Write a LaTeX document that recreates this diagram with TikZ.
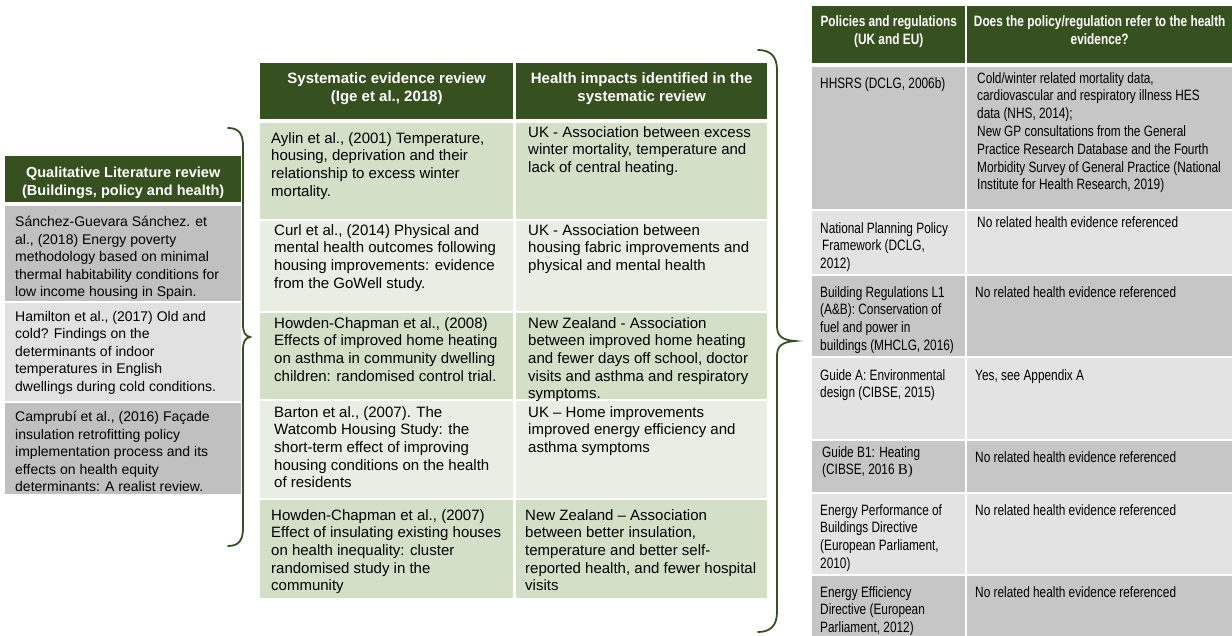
\documentclass[tikz,border=0pt]{standalone}
\usepackage{fontspec}
\setmainfont{Liberation Sans}
\newfontfamily\narrowfont[FakeStretch=0.79]{Liberation Sans}
\newfontfamily\serifpart{Liberation Serif}
\usepackage{tikz}
\usetikzlibrary{positioning}
\usepackage{xcolor}
\definecolor{hdgreen}{RGB}{55,80,31}
\definecolor{rowgreen}{RGB}{211,223,199}
\definecolor{rowpale}{RGB}{232,238,228}
\definecolor{rowgrey}{RGB}{192,192,192}
\definecolor{rowlight}{RGB}{225,225,225}
\definecolor{polgrey}{RGB}{198,198,198}
\definecolor{pollight}{RGB}{227,227,227}
\tikzstyle{cell} = [rectangle, inner sep=0pt, anchor=north west]
\tikzstyle{hdcell} = [cell, fill=hdgreen]
\tikzstyle{greencell} = [cell, fill=rowgreen]
\tikzstyle{palecell} = [cell, fill=rowpale]
\tikzstyle{greycell} = [cell, fill=rowgrey]
\tikzstyle{lightcell} = [cell, fill=rowlight]
\tikzstyle{polcell} = [cell, fill=polgrey]
\tikzstyle{pollightcell} = [cell, fill=pollight]
\tikzstyle{hdtext} = [inner sep=0pt, align=center, text=white, font=\bfseries\fontsize{15}{18}\selectfont]
\tikzstyle{littext} = [inner sep=0pt, align=left, font=\fontsize{14}{17.5}\selectfont]
\tikzstyle{bodytext} = [inner sep=0pt, align=left, font=\fontsize{15}{17.7}\selectfont]
\tikzstyle{poltext} = [inner sep=0pt, align=left, font=\narrowfont\fontsize{15}{17.8}\selectfont]
\tikzstyle{polhdtext} = [hdtext, font=\narrowfont\bfseries\fontsize{15}{18}\selectfont]
\tikzstyle{brace} = [draw=hdgreen, line width=1.8pt, line cap=round]

\begin{document}
\begin{tikzpicture}[x=1pt, y=-1pt]
\useasboundingbox (0,0) rectangle (1232,636);
\fill[white] (0,0) rectangle (1232,636);

% Qualitative literature review
\node[hdcell, minimum width=236pt, minimum height=46pt] (lhd) at (5,156) {};
\node[hdtext, font=\bfseries\fontsize{14.5}{18}\selectfont, below=11pt of lhd.north] (lhdtxt) {Qualitative Literature review\\(Buildings, policy and health)};
\node[greycell, minimum width=236pt, minimum height=95pt] (l1) at (5,206) {};
\node[littext, below right=10pt and 10pt of l1.north west] (l1txt) {Sánchez-Guevara Sánchez. et\\al., (2018) Energy poverty\\methodology based on minimal\\thermal habitability conditions for\\low income housing in Spain.};
\node[lightcell, minimum width=236pt, minimum height=98pt] (l2) at (5,303) {};
\node[littext, below right=8pt and 10pt of l2.north west] (l2txt) {Hamilton et al., (2017) Old and\\cold? Findings on the\\determinants of indoor\\temperatures in English\\dwellings during cold conditions.};
\node[greycell, minimum width=236pt, minimum height=91pt] (l3) at (5,403) {};
\node[littext, below right=8pt and 10pt of l3.north west] (l3txt) {Camprubí et al., (2016) Façade\\insulation retrofitting policy\\implementation process and its\\effects on health equity\\determinants: A realist review.};

% Systematic evidence review
\node[hdcell, minimum width=253pt, minimum height=56pt] (mhd1) at (260,63) {};
\node[hdcell, minimum width=251pt, minimum height=56pt] (mhd2) at (516,63) {};
\node[hdtext, below=9pt of mhd1.north] (mhd1txt) {Systematic evidence review\\(Ige et al., 2018)};
\node[hdtext, below=9pt of mhd2.north] (mhd2txt) {Health impacts identified in the\\systematic review};

\node[greencell, minimum width=253pt, minimum height=96pt] (m11) at (260,123) {};
\node[greencell, minimum width=251pt, minimum height=96pt] (m12) at (516,123) {};
\node[bodytext, below right=9pt and 11pt of m11.north west] (m11txt) {Aylin et al., (2001) Temperature,\\housing, deprivation and their\\relationship to excess winter\\mortality.};
\node[bodytext, below right=3pt and 12pt of m12.north west] (m12txt) {UK - Association between excess\\winter mortality, temperature and\\lack of central heating.};

\node[palecell, minimum width=253pt, minimum height=90pt] (m21) at (260,221) {};
\node[palecell, minimum width=251pt, minimum height=90pt] (m22) at (516,221) {};
\node[bodytext, below right=3pt and 14pt of m21.north west] (m21txt) {Curl et al., (2014) Physical and\\mental health outcomes following\\housing improvements: evidence\\from the GoWell study.};
\node[bodytext, below right=3pt and 12pt of m22.north west] (m22txt) {UK - Association between\\housing fabric improvements and\\physical and mental health};

\node[greencell, minimum width=253pt, minimum height=86pt] (m31) at (260,313) {};
\node[greencell, minimum width=251pt, minimum height=86pt] (m32) at (516,313) {};
\node[bodytext, below right=4pt and 14pt of m31.north west] (m31txt) {Howden-Chapman et al., (2008)\\Effects of improved home heating\\on asthma in community dwelling\\children: randomised control trial.};
\node[bodytext, below right=4pt and 12pt of m32.north west] (m32txt) {New Zealand - Association\\between improved home heating\\and fewer days off school, doctor\\visits and asthma and respiratory\\symptoms.};

\node[palecell, minimum width=253pt, minimum height=97pt] (m41) at (260,401) {};
\node[palecell, minimum width=251pt, minimum height=97pt] (m42) at (516,401) {};
\node[bodytext, below right=5pt and 14pt of m41.north west] (m41txt) {Barton et al., (2007). The\\Watcomb Housing Study: the\\short-term effect of improving\\housing conditions on the health\\of residents};
\node[bodytext, below right=5pt and 12pt of m42.north west] (m42txt) {UK – Home improvements\\improved energy efficiency and\\asthma symptoms};

\node[greencell, minimum width=253pt, minimum height=98pt] (m51) at (260,500) {};
\node[greencell, minimum width=251pt, minimum height=98pt] (m52) at (516,500) {};
\node[bodytext, below right=9pt and 11pt of m51.north west] (m51txt) {Howden-Chapman et al., (2007)\\Effect of insulating existing houses\\on health inequality: cluster\\randomised study in the\\community};
\node[bodytext, below right=9pt and 9pt of m52.north west] (m52txt) {New Zealand – Association\\between better insulation,\\temperature and better self-\\reported health, and fewer hospital\\visits};

% Policies and regulations
\node[hdcell, minimum width=153pt, minimum height=57pt] (rhd1) at (812,6) {};
\node[hdcell, minimum width=265pt, minimum height=57pt] (rhd2) at (967,6) {};
\node[polhdtext, below=9pt of rhd1.north] (rhd1txt) {Policies and regulations\\(UK and EU)};
\node[polhdtext, below=9pt of rhd2.north] (rhd2txt) {Does the policy/regulation refer to the health\\evidence?};

\node[polcell, minimum width=153pt, minimum height=142pt] (r11) at (812,67) {};
\node[polcell, minimum width=265pt, minimum height=142pt] (r12) at (967,67) {};
\node[poltext, below right=10pt and 8pt of r11.north west] (r11txt) {HHSRS (DCLG, 2006b)};
\node[poltext, below right=5pt and 10pt of r12.north west] (r12txt) {Cold/winter related mortality data,\\cardiovascular and respiratory illness HES\\data (NHS, 2014);\\New GP consultations from the General\\Practice Research Database and the Fourth\\Morbidity Survey of General Practice (National\\Institute for Health Research, 2019)};

\node[pollightcell, minimum width=153pt, minimum height=63pt] (r21) at (812,211) {};
\node[pollightcell, minimum width=265pt, minimum height=63pt] (r22) at (967,211) {};
\node[poltext, below right=11pt and 8pt of r21.north west] (r21txt) {National Planning Policy\\\hspace{2pt}Framework (DCLG,\\2012)};
\node[poltext, below right=5pt and 10pt of r22.north west] (r22txt) {No related health evidence referenced};

\node[polcell, minimum width=153pt, minimum height=80pt] (r31) at (812,276) {};
\node[polcell, minimum width=265pt, minimum height=80pt] (r32) at (967,276) {};
\node[poltext, below right=10pt and 8pt of r31.north west] (r31txt) {Building Regulations L1\\(A\&B): Conservation of\\fuel and power in\\buildings (MHCLG, 2016)};
\node[poltext, below right=10pt and 8pt of r32.north west] (r32txt) {No related health evidence referenced};

\node[pollightcell, minimum width=153pt, minimum height=81pt] (r41) at (812,358) {};
\node[pollightcell, minimum width=265pt, minimum height=81pt] (r42) at (967,358) {};
\node[poltext, below right=11pt and 8pt of r41.north west] (r41txt) {Guide A: Environmental\\design (CIBSE, 2015)};
\node[poltext, below right=11pt and 8pt of r42.north west] (r42txt) {Yes, see Appendix A};

\node[polcell, minimum width=153pt, minimum height=51pt] (r51) at (812,441) {};
\node[polcell, minimum width=265pt, minimum height=51pt] (r52) at (967,441) {};
\node[poltext, below right=5pt and 10pt of r51.north west] (r51txt) {Guide B1: Heating\\(CIBSE, 2016 {\serifpart B)}};
\node[poltext, below right=10pt and 8pt of r52.north west] (r52txt) {No related health evidence referenced};

\node[pollightcell, minimum width=153pt, minimum height=80pt] (r61) at (812,494) {};
\node[pollightcell, minimum width=265pt, minimum height=80pt] (r62) at (967,494) {};
\node[poltext, below right=10pt and 8pt of r61.north west] (r61txt) {Energy Performance of\\Buildings Directive\\(European Parliament,\\2010)};
\node[poltext, below right=10pt and 8pt of r62.north west] (r62txt) {No related health evidence referenced};

\node[polcell, minimum width=153pt, minimum height=60pt] (r71) at (812,576) {};
\node[polcell, minimum width=265pt, minimum height=60pt] (r72) at (967,576) {};
\node[poltext, below right=10pt and 8pt of r71.north west] (r71txt) {Energy Efficiency\\Directive (European\\Parliament, 2012)};
\node[poltext, below right=10pt and 8pt of r72.north west] (r72txt) {No related health evidence referenced};

% Braces
\draw[brace] (228,128) .. controls (239,128) and (243,134) .. (243,146) -- (243,324) .. controls (243,332) and (245,336) .. (250,337) .. controls (245,338) and (243,342) .. (243,350) -- (243,528) .. controls (243,540) and (239,546) .. (228,546);
\draw[brace] (758,50) .. controls (771,50) and (777,57) .. (777,70) -- (777,326) .. controls (777,336) and (782,340) .. (795,341) .. controls (782,342) and (777,346) .. (777,356) -- (777,612) .. controls (777,625) and (771,632) .. (758,632);
\end{tikzpicture}
\end{document}
